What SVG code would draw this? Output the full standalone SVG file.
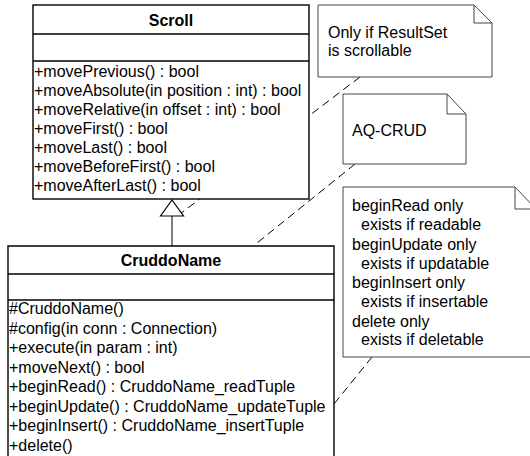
<svg xmlns="http://www.w3.org/2000/svg" width="530" height="456" viewBox="0 0 530 456">
<style>
  .cls { fill: #fff; stroke: #000; stroke-width: 1.4; }
  .sep { stroke: #000; stroke-width: 1.4; }
  .note { fill: #fff; stroke: #444; stroke-width: 1; }
  .t { font-family: "Liberation Sans", Arial, sans-serif; font-size: 16px; fill: #000; }
  .b { font-weight: bold; text-anchor: middle; }
  .dash { stroke: #000; stroke-width: 1; stroke-dasharray: 8 5; fill: none; }
</style>
<rect width="530" height="456" fill="#fff"/>
<g id="connectors">
  <line class="dash" x1="360" y1="77" x2="180" y2="214"/>
  <line class="dash" x1="355" y1="164" x2="257" y2="243"/>
  <line class="dash" x1="372" y1="357" x2="334" y2="404"/>
  <line x1="172" y1="216" x2="172" y2="246" stroke="#000" stroke-width="1"/>
  <polygon points="172,200 160.5,216 183.5,216" fill="#fff" stroke="#000" stroke-width="1.2"/>
</g>
<g id="Scroll">
  <rect class="cls" x="33" y="5" width="276" height="194"/>
  <line class="sep" x1="33" y1="34" x2="309" y2="34"/>
  <line class="sep" x1="33" y1="61" x2="309" y2="61"/>
  <text class="t b" x="171" y="26">Scroll</text>
  <text class="t" x="34" y="77">+movePrevious() : bool</text>
  <text class="t" x="34" y="96">+moveAbsolute(in position : int) : bool</text>
  <text class="t" x="34" y="115">+moveRelative(in offset : int) : bool</text>
  <text class="t" x="34" y="134">+moveFirst() : bool</text>
  <text class="t" x="34" y="153">+moveLast() : bool</text>
  <text class="t" x="34" y="172">+moveBeforeFirst() : bool</text>
  <text class="t" x="34" y="191">+moveAfterLast() : bool</text>
</g>
<g id="CruddoName">
  <path class="cls" d="M8,470 V246 H334 V470"/>
  <line class="sep" x1="8" y1="274" x2="334" y2="274"/>
  <line class="sep" x1="8" y1="300" x2="334" y2="300"/>
  <text class="t b" x="171" y="266">CruddoName</text>
  <text class="t" x="9" y="314">#CruddoName()</text>
  <text class="t" x="9" y="333.5">#config(in conn : Connection)</text>
  <text class="t" x="9" y="353">+execute(in param : int)</text>
  <text class="t" x="9" y="372.5">+moveNext() : bool</text>
  <text class="t" x="9" y="392">+beginRead() : CruddoName_readTuple</text>
  <text class="t" x="9" y="411.5">+beginUpdate() : CruddoName_updateTuple</text>
  <text class="t" x="9" y="431">+beginInsert() : CruddoName_insertTuple</text>
  <text class="t" x="9" y="450.5">+delete()</text>
</g>
<g id="note1">
  <path class="note" d="M318,5 H474 L492,23 V77 H318 Z M474,5 V23 H492"/>
  <text class="t" x="328" y="38">Only if ResultSet</text>
  <text class="t" x="328" y="56">is scrollable</text>
</g>
<g id="note2">
  <path class="note" d="M343,94 H447 L466,114 V164 H343 Z M447,94 V114 H466"/>
  <text class="t" x="352" y="136">AQ-CRUD</text>
</g>
<g id="note3">
  <path class="note" d="M343,187 H515 L536,209 V357 H343 Z M515,187 V209 H536"/>
  <text class="t" x="352" y="211">beginRead only</text>
  <text class="t" x="361" y="230">exists if readable</text>
  <text class="t" x="352" y="250">beginUpdate only</text>
  <text class="t" x="361" y="269">exists if updatable</text>
  <text class="t" x="352" y="288">beginInsert only</text>
  <text class="t" x="361" y="307">exists if insertable</text>
  <text class="t" x="352" y="327">delete only</text>
  <text class="t" x="361" y="345">exists if deletable</text>
</g>
</svg>
